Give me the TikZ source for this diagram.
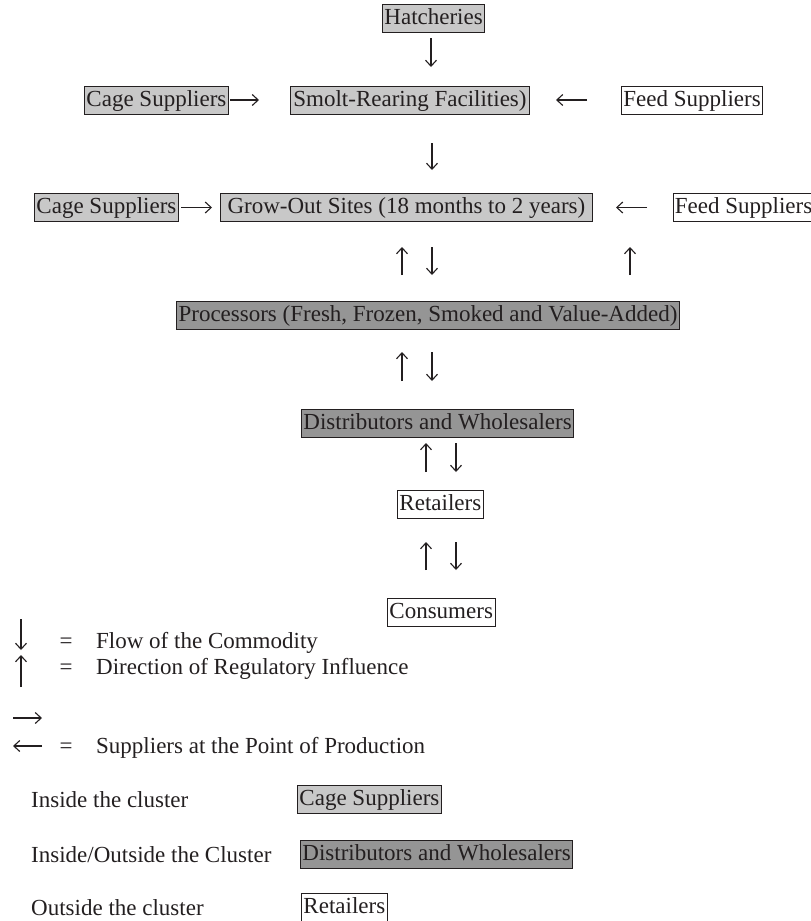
\documentclass[tikz,border=0pt]{standalone}
\usepackage{fontspec}
\setmainfont{Liberation Serif}
\usetikzlibrary{arrows.meta}
\definecolor{ink}{HTML}{231F20}
\definecolor{lightfill}{HTML}{C8C8C8}
\definecolor{darkfill}{HTML}{959595}
\begin{document}
\begin{tikzpicture}[x=1pt,y=-1pt, font=\fontsize{23}{27}\selectfont, text=ink,
  box/.style={draw=ink, line width=0.9pt, inner xsep=2pt, inner ysep=2.5pt,
    text height=18pt, text depth=5pt, anchor=north west},
  inbox/.style={box, fill=lightfill},
  midbox/.style={box, fill=darkfill},
  outbox/.style={box, fill=white},
  arr/.style={draw=ink, line width=1.1pt, -{Straight Barb[length=6pt,width=11pt]}},
  lbl/.style={anchor=base west, inner sep=0pt}]
\useasboundingbox (0,0) rectangle (811,921);

% main chain
\node[inbox, minimum width=99] (hatch) at (382,4) {Hatcheries};
\node[inbox, minimum width=141] (cage1) at (84,86) {Cage Suppliers};
\node[inbox, minimum width=239] (smolt) at (290,86) {Smolt-Rearing Facilities)};
\node[outbox, minimum width=139] (feed1) at (621,86) {Feed Suppliers};
\node[inbox, minimum width=140] (cage2) at (34,193) {Cage Suppliers};
\node[inbox, minimum width=372] (grow) at (220,193) {Grow-Out Sites (18 months to 2 years)\hspace{12pt}};
\node[outbox, minimum width=138] (feed2) at (672.5,193) {Feed Suppliers};
\node[midbox, anchor=north] (proc) at (428,301) {Processors (Fresh, Frozen, Smoked and Value-Added)};
\node[midbox, minimum width=271] (dist) at (301,409) {Distributors and Wholesalers};
\node[outbox, minimum width=83] (ret) at (397,490) {Retailers};
\node[outbox, minimum width=105] (cons) at (387,598) {Consumers};

% arrow end points
\coordinate (h1) at (431,38);  \coordinate (h2) at (431,67);
\coordinate (s1) at (432,143); \coordinate (s2) at (432,170);
\coordinate (c1a) at (230,100); \coordinate (c1b) at (259,100);
\coordinate (f1a) at (587,100); \coordinate (f1b) at (556,100);
\coordinate (c2a) at (181,207.5); \coordinate (c2b) at (212,207.5);
\coordinate (f2a) at (647,207.5); \coordinate (f2b) at (616,207.5);
\coordinate (u1a) at (402,275); \coordinate (u1b) at (402,247);
\coordinate (d1a) at (432,247); \coordinate (d1b) at (432,275);
\coordinate (u1c) at (630,275); \coordinate (u1d) at (630,247);
\coordinate (u2a) at (402,381); \coordinate (u2b) at (402,352);
\coordinate (d2a) at (432,352); \coordinate (d2b) at (432,381);
\coordinate (u3a) at (426,472); \coordinate (u3b) at (426,443);
\coordinate (d3a) at (456,443); \coordinate (d3b) at (456,472);
\coordinate (u4a) at (426,570); \coordinate (u4b) at (426,542);
\coordinate (d4a) at (456,542); \coordinate (d4b) at (456,570);

\draw[arr] (h1) -- (h2);
\draw[arr] (s1) -- (s2);
\draw[arr] (c1a) -- (c1b);
\draw[arr] (f1a) -- (f1b);
\draw[arr] (c2a) -- (c2b);
\draw[arr] (f2a) -- (f2b);
\draw[arr] (u1a) -- (u1b);
\draw[arr] (d1a) -- (d1b);
\draw[arr] (u1c) -- (u1d);
\draw[arr] (u2a) -- (u2b);
\draw[arr] (d2a) -- (d2b);
\draw[arr] (u3a) -- (u3b);
\draw[arr] (d3a) -- (d3b);
\draw[arr] (u4a) -- (u4b);
\draw[arr] (d4a) -- (d4b);

% legend
\coordinate (ld1) at (21,619); \coordinate (ld2) at (21,650);
\coordinate (lu1) at (21,687); \coordinate (lu2) at (21,655);
\coordinate (lr1) at (13,718); \coordinate (lr2) at (42,718);
\coordinate (ll1) at (42,746); \coordinate (ll2) at (13,746);
\draw[arr] (ld1) -- (ld2);
\draw[arr] (lu1) -- (lu2);
\draw[arr] (lr1) -- (lr2);
\draw[arr] (ll1) -- (ll2);

\node[lbl] (e1) at (59.5,648) {=};
\node[lbl] (t1) at (96,648) {Flow of the Commodity};
\node[lbl] (e2) at (59.5,674) {=};
\node[lbl] (t2) at (96,674) {Direction of Regulatory Influence};
\node[lbl] (e3) at (59.5,753) {=};
\node[lbl] (t3) at (96,753) {Suppliers at the Point of Production};

\node[lbl] (i1) at (31,807) {Inside the cluster};
\node[lbl] (i2) at (31,862) {Inside/Outside the Cluster};
\node[lbl] (i3) at (31,915) {Outside the cluster};
\node[inbox, minimum width=142] (k1) at (297,785) {Cage Suppliers};
\node[midbox, minimum width=271] (k2) at (300,840) {Distributors and Wholesalers};
\node[outbox, minimum width=83] (k3) at (301,892.5) {Retailers};
\end{tikzpicture}
\end{document}
